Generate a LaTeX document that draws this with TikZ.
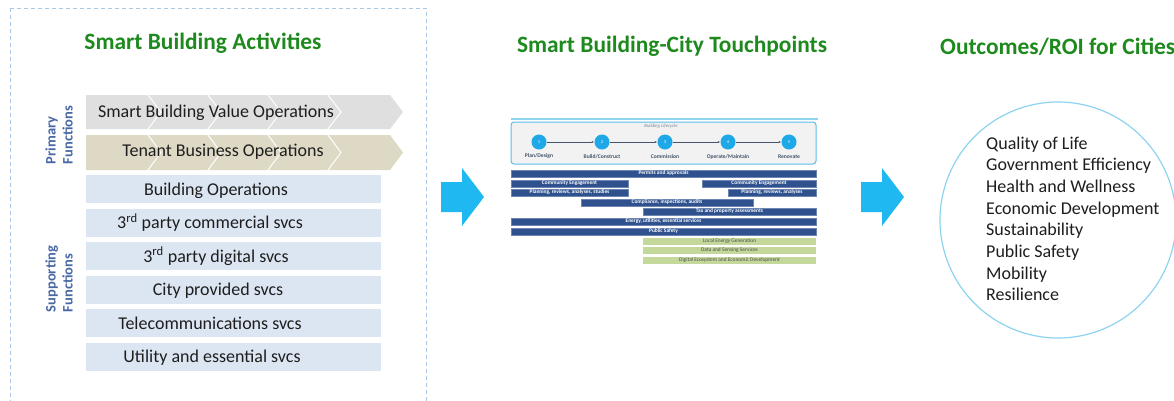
\documentclass[tikz,border=0pt]{standalone}
\usepackage{fontspec}
\setmainfont{Carlito}
\usetikzlibrary{arrows.meta}
\definecolor{titlegreen}{RGB}{30,138,30}
\definecolor{labelblue}{RGB}{72,104,165}
\definecolor{dashblue}{RGB}{170,200,228}
\definecolor{chevgray}{RGB}{223,223,223}
\definecolor{chevtan}{RGB}{221,217,196}
\definecolor{rowblue}{RGB}{220,230,242}
\definecolor{txtdark}{RGB}{30,30,30}
\definecolor{arrowblue}{RGB}{32,184,240}
\definecolor{ringblue}{RGB}{140,212,240}
\definecolor{barblue}{RGB}{47,82,143}
\definecolor{bargreen}{RGB}{196,216,156}
\definecolor{lcblue}{RGB}{30,168,232}
\definecolor{lcline}{RGB}{68,84,106}
\definecolor{lcbox}{RGB}{242,242,242}
\definecolor{lcborder}{RGB}{91,190,235}
\tikzset{
  titletext/.style={font=\fontsize{23.4}{26}\selectfont\bfseries, text=titlegreen, anchor=base, inner sep=0},
  rowtext/.style={font=\fontsize{18}{21.7}\selectfont, text=txtdark, anchor=base, inner sep=0},
  rowbox/.style={fill=rowblue},
  sidelabel/.style={font=\fontsize{14.5}{17}\selectfont\bfseries, text=labelblue, rotate=90, align=left, inner sep=0},
  bigarrow/.style={fill=arrowblue},
  darkbar/.style={fill=barblue, draw=barblue!70!white, line width=0.3pt, text=white, minimum height=7pt, inner sep=0, font=\fontsize{5.4}{5.4}\selectfont\bfseries},
  greenbar/.style={fill=bargreen, text=txtdark!80, minimum height=7pt, inner sep=0, font=\fontsize{5.4}{5.4}\selectfont},
  lcstep/.style={circle, fill=lcblue, minimum size=15pt, inner sep=0, text=white, font=\fontsize{4.5}{5}\selectfont},
  lclabel/.style={text=lcline, inner sep=0, font=\fontsize{5.6}{6}\selectfont\bfseries},
  lcarrow/.style={draw=lcline, line width=0.5pt, -{Latex[length=2.5pt,width=2pt]}},
  outtext/.style={font=\fontsize{18}{21.7}\selectfont, text=txtdark, anchor=base west, inner sep=0}
}
\begin{document}
\begin{tikzpicture}[x=1pt,y=-1pt]
\useasboundingbox (0,0) rectangle (1174,400);
\fill[white] (0,0) rectangle (1174,400);

% ---------- left panel ----------
\draw[dashblue, line width=1pt, dash pattern=on 4pt off 3pt] (10,8) rectangle (426,420);
\node[titletext] (t1) at (203,49) {Smart Building Activities};

% chevron rows
\fill[chevgray] (86,95) -- (390,95) -- (403,112) -- (390,129) -- (86,129) -- cycle;
\foreach \x in {148,208,268,328}
  \draw[white, line width=1pt] (\x,95) -- (\x+13,112) -- (\x,129);
\fill[chevtan] (86,135) -- (390,135) -- (403,152.5) -- (390,170) -- (86,170) -- cycle;
\foreach \x in {148,208,268,328}
  \draw[white, line width=1pt] (\x,135) -- (\x+13,152.5) -- (\x,170);
\node[rowtext] (r1) at (216,117) {Smart Building Value Operations};
\node[rowtext] (r2) at (223,156) {Tenant Business Operations};

% blue rows
\fill[rowbox] (86,175) rectangle (381,203);
\fill[rowbox] (86,208.5) rectangle (381,236.5);
\fill[rowbox] (86,242) rectangle (381,270);
\fill[rowbox] (86,275.5) rectangle (381,303.5);
\fill[rowbox] (86,309) rectangle (381,337);
\fill[rowbox] (86,342.5) rectangle (381,370.5);
\node[rowtext] (r3) at (216,195) {Building Operations};
\node[rowtext] (r4) at (210,228.5) {3\textsuperscript{rd} party commercial svcs};
\node[rowtext] (r5) at (216,262) {3\textsuperscript{rd} party digital svcs};
\node[rowtext] (r6) at (218,295.5) {City provided svcs};
\node[rowtext] (r7) at (210,329) {Telecommunications svcs};
\node[rowtext] (r8) at (212,362.5) {Utility and essential svcs};

\node[sidelabel] (prim) at (59,135) {Primary\\Functions};
\node[sidelabel] (supp) at (59,279) {Supporting\\Functions};

% ---------- arrows ----------
\fill[bigarrow] (441,182) -- (462,182) -- (462,168) -- (484,197) -- (462,226) -- (462,212) -- (441,212) -- cycle;
\fill[bigarrow] (861,182) -- (882,182) -- (882,168) -- (904,197) -- (882,226) -- (882,212) -- (861,212) -- cycle;

% ---------- middle panel ----------
\node[titletext] (t2) at (672,52) {Smart Building-City Touchpoints};
\draw[ringblue, line width=1.5pt] (511,119) -- (818,119);
\draw[lcborder, fill=lcbox, line width=1pt, rounded corners=3pt] (511,122) rectangle (816,164);
\node[lclabel, font=\fontsize{4.8}{5}\selectfont\itshape, text=lcline!70] (lct) at (661,126.5) {Building Lifecycle};
\node[lcstep] (s1) at (539,142) {1};
\node[lcstep] (s2) at (602,142) {2};
\node[lcstep] (s3) at (665,142) {3};
\node[lcstep] (s4) at (728,142) {4};
\node[lcstep] (s5) at (789,142) {5};
\draw[lcarrow] (s1) -- (s2);
\draw[lcarrow] (s2) -- (s3);
\draw[lcarrow] (s3) -- (s4);
\draw[lcarrow] (s4) -- (s5);
\node[lclabel] (l1) at (539,156.5) {Plan/Design};
\node[lclabel] (l2) at (602,156.5) {Build/Construct};
\node[lclabel] (l3) at (665,156.5) {Commission};
\node[lclabel] (l4) at (728,156.5) {Operate/Maintain};
\node[lclabel] (l5) at (789,156.5) {Renovate};

\node[darkbar, minimum width=305pt] (b1) at (663.5,173.5) {Permits and approvals};
\node[darkbar, minimum width=117pt] (b2) at (569.5,183.5) {Community Engagement};
\node[darkbar, minimum width=114pt] (b3) at (759,183.5) {Community Engagement};
\node[darkbar, minimum width=117pt] (b4) at (569.5,192.5) {Planning, reviews, analyses, studies};
\node[darkbar, minimum width=88pt] (b5) at (772,192.5) {Planning, reviews, analyses};
\node[darkbar, minimum width=172pt] (b6) at (667,202.5) {Compliance, inspections, audits};
\node[darkbar, minimum width=173pt] (b7) at (729.5,211.5) {Tax and property assessments};
\node[darkbar, minimum width=305pt] (b8) at (663.5,221.5) {Energy, utilities, essential services};
\node[darkbar, minimum width=305pt] (b9) at (663.5,231.5) {Public Safety};
\node[greenbar, minimum width=173pt] (g1) at (729.5,241.5) {Local Energy Generation};
\node[greenbar, minimum width=173pt] (g2) at (729.5,250.5) {Data and Sensing Services};
\node[greenbar, minimum width=173pt] (g3) at (729.5,260.5) {Digital Ecosystem and Economic Development};

% ---------- right panel ----------
\node[titletext, anchor=base west] (t3) at (940,54) {Outcomes/ROI for Cities};
\draw[ringblue, line width=1.2pt] (1058,220) circle[radius=118];
\foreach \t [count=\i] in {Quality of Life, Government Efficiency, Health and Wellness, Economic Development, Sustainability, Public Safety, Mobility, Resilience}
  \node[outtext] (o\i) at (986,{149+21.7*(\i-1)}) {\t};
\end{tikzpicture}
\end{document}
